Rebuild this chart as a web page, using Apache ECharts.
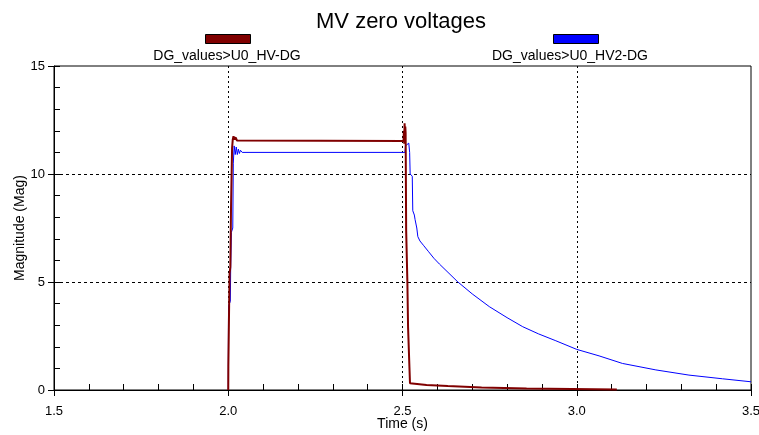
<!DOCTYPE html>
<html lang="en">
<head>
  <meta charset="UTF-8">
  <title>MV zero voltages</title>
  <script src="https://cdn.jsdelivr.net/npm/echarts@6/dist/echarts.min.js"></script>
</head>
<style>
    html, body { margin: 0; padding: 0; background: #fff; }
    #main {
        width: 759px;
        height: 435px;
    }
</style>
<body>
<div id="main"></div>
<script>
  // time (s), magnitude
  let hvDg = [
    [2.0, 0], [2.0003, 1.1], [2.002, 1.1], [2.0025, 3.9], [2.004, 5.4], [2.006, 5.7],
    [2.008, 8.5], [2.011, 11.2], [2.013, 11.6], [2.015, 11.75], [2.018, 11.6],
    [2.021, 11.7], [2.025, 11.55], [2.503, 11.53], [2.504, 12.0], [2.505, 11.4],
    [2.506, 12.35], [2.507, 11.8], [2.508, 12.2], [2.509, 11.9], [2.5105, 7.4],
    [2.514, 5.0], [2.516, 2.9], [2.52, 1.0], [2.5215, 0.31], [2.569, 0.23],
    [2.57, 0.19], [2.63, 0.18], [2.631, 0.12], [2.727, 0.12], [2.728, 0.07],
    [2.856, 0.07], [2.857, 0.02], [3.115, 0.02]
  ]
  let hv2Dg = [
    [2.0, 0], [2.0008, 3.9], [2.006, 4.1], [2.007, 5.7], [2.009, 7.3], [2.013, 7.5],
    [2.0145, 10.5], [2.017, 11.3], [2.02, 10.9], [2.023, 11.25], [2.026, 10.9],
    [2.029, 11.15], [2.032, 10.95], [2.035, 11.1], [2.04, 11.0], [2.507, 11.0],
    [2.5085, 11.3], [2.513, 11.3], [2.518, 11.43], [2.5205, 11.0], [2.522, 10.0],
    [2.528, 9.9], [2.5295, 8.3], [2.534, 8.1], [2.536, 7.9], [2.541, 7.5],
    [2.544, 7.1], [2.55, 6.9], [2.56, 6.7], [2.575, 6.4], [2.59, 6.1],
    [2.606, 5.83], [2.659, 5.0], [2.70, 4.45], [2.749, 3.86], [2.80, 3.35],
    [2.845, 2.93], [2.89, 2.6], [2.94, 2.28], [3.0, 1.88], [3.064, 1.58],
    [3.131, 1.23], [3.227, 0.93], [3.322, 0.69], [3.418, 0.52], [3.5, 0.38]
  ]
  let seriesNames = ['DG_values>U0_HV-DG', 'DG_values>U0_HV2-DG']
  let seriesColors = ['#800000', '#0000ff']

  const font = 'Liberation Sans, Arial, sans-serif'
  const box = { left: 54, right: 8, top: 66, bottom: 45, outerBoundsMode: 'none', containLabel: false }
  const chart = echarts.init(document.getElementById('main'))
  chart.setOption({
    animation: false,
    title: [
      {
        text: 'MV zero voltages',
        left: 396, top: 6, textAlign: 'center',
        textStyle: { fontFamily: font, fontSize: 22, fontWeight: 'normal', color: '#000' }
      },
      {
        text: seriesNames[0],
        left: 227, top: 49, textAlign: 'center', padding: 0,
        textStyle: { fontFamily: font, fontSize: 14, fontWeight: 'normal', color: '#000' }
      },
      {
        text: seriesNames[1],
        left: 570, top: 49, textAlign: 'center', padding: 0,
        textStyle: { fontFamily: font, fontSize: 14, fontWeight: 'normal', color: '#000' }
      }
    ],
    // colored bars above the legend names
    legend: [
      {
        data: [seriesNames[0]], left: 205, top: 34, padding: 0,
        icon: 'rect', itemWidth: 45, itemHeight: 9, formatter: () => '',
        itemStyle: { borderColor: '#000', borderWidth: 1 }
      },
      {
        data: [seriesNames[1]], left: 553, top: 34, padding: 0,
        icon: 'rect', itemWidth: 45, itemHeight: 9, formatter: () => '',
        itemStyle: { borderColor: '#000', borderWidth: 1 }
      }
    ],
    grid: [
      Object.assign({ show: true, borderColor: '#000', borderWidth: 1, backgroundColor: '#fff' }, box),
      // second grid on the same spot only carries the small inner ticks
      Object.assign({ show: false }, box)
    ],
    xAxis: [
      {
        type: 'value', min: 1.5, max: 3.5, interval: 0.5, gridIndex: 0,
        name: 'Time (s)', nameLocation: 'middle', nameGap: 27, nameMoveOverlap: false,
        nameTextStyle: { fontFamily: font, fontSize: 14, color: '#000' },
        axisLine: { lineStyle: { color: '#000' } },
        axisTick: { inside: false, length: 6, lineStyle: { color: '#000' } },
        axisLabel: { fontFamily: font, fontSize: 13, color: '#000', margin: 15,
          formatter: v => v.toFixed(1) },
        splitLine: { show: true, showMinLine: false, showMaxLine: false,
          lineStyle: { color: '#000', type: [2, 3] } }
      },
      {
        type: 'value', min: 1.5, max: 3.5, interval: 0.1, gridIndex: 1, position: 'bottom',
        axisLine: { show: false },
        axisTick: { inside: true, length: 6, lineStyle: { color: '#000' } },
        axisLabel: { show: false },
        splitLine: { show: false }
      }
    ],
    yAxis: [
      {
        type: 'value', min: 0, max: 15, interval: 5, gridIndex: 0,
        name: 'Magnitude (Mag)', nameLocation: 'middle', nameGap: 27, nameMoveOverlap: false,
        nameTextStyle: { fontFamily: font, fontSize: 14, color: '#000' },
        axisLine: { show: true, lineStyle: { color: '#000' } },
        axisTick: { show: true, inside: false, length: 6, lineStyle: { color: '#000' } },
        axisLabel: { fontFamily: font, fontSize: 13, color: '#000', margin: 9 },
        splitLine: { show: true, showMinLine: false, showMaxLine: false,
          lineStyle: { color: '#000', type: [3, 3] } }
      },
      {
        type: 'value', min: 0, max: 15, interval: 1, gridIndex: 1, position: 'left',
        axisLine: { show: false },
        axisTick: { show: true, inside: true, length: 6, lineStyle: { color: '#000' } },
        axisLabel: { show: false },
        splitLine: { show: false }
      }
    ],
    series: [
      {
        name: seriesNames[1], type: 'line', data: hv2Dg, z: 2,
        showSymbol: false, color: seriesColors[1],
        lineStyle: { width: 1, color: seriesColors[1] }
      },
      {
        name: seriesNames[0], type: 'line', data: hvDg, z: 3,
        showSymbol: false, color: seriesColors[0],
        lineStyle: { width: 2, color: seriesColors[0] }
      }
    ]
  })
</script>
</body>
</html>
